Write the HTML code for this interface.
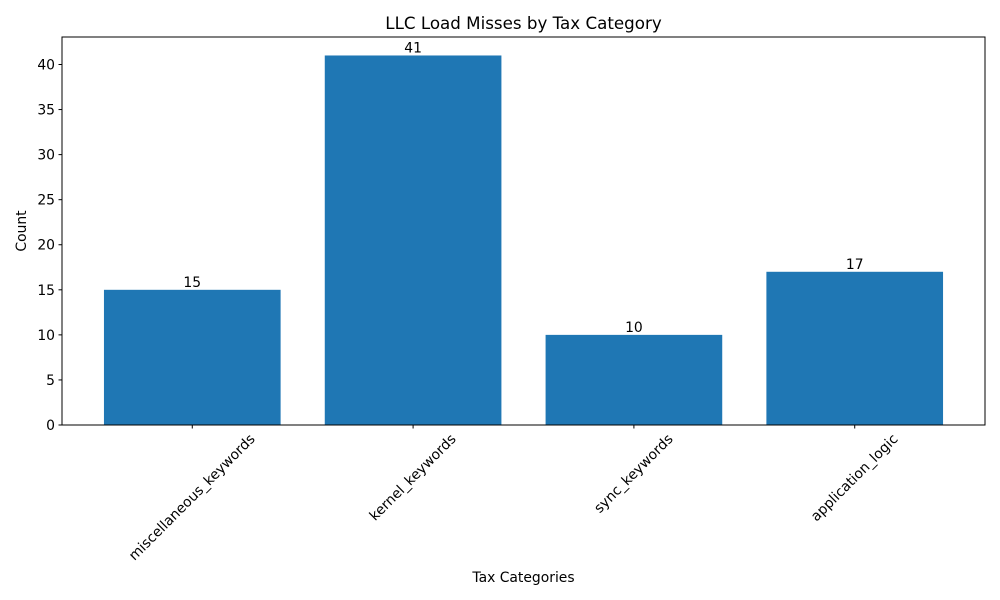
<!DOCTYPE html>
<html><head><meta charset="utf-8"><style>
body{margin:0;background:#fff;}
svg{display:block;font-family:"DejaVu Sans","Liberation Sans",sans-serif;}
</style></head><body>
<svg id="chart" width="1000" height="600">
<rect x="0" y="0" width="1000" height="600" fill="#fff"/>
<text x="523.5" y="29" font-size="16.7" text-anchor="middle">LLC Load Misses by Tax Category</text>
<g id="bars"></g>
<g id="yaxis"></g>
<g id="xaxis"></g>
<rect x="62" y="37" width="923" height="388" fill="none" stroke="#000" stroke-width="1"/>
<text x="523.5" y="582" font-size="13.9" text-anchor="middle">Tax Categories</text>
<text transform="translate(26,231) rotate(-90)" font-size="13.9" text-anchor="middle">Count</text>
</svg>
<script>
const categories=["miscellaneous_keywords","kernel_keywords","sync_keywords","application_logic"];
const values=[15,41,10,17];
const yTicks=[0,5,10,15,20,25,30,35,40];
const NS="http://www.w3.org/2000/svg";
const L=62,R=985,T=37,B=425;
const ymax=Math.max(...values)*1.05;
const y=v=>B-(v/ymax)*(B-T);
const xmin=-0.59,xmax=categories.length-1+0.59;
const x=i=>L+(i-xmin)/(xmax-xmin)*(R-L);
const pu=(R-L)/(xmax-xmin);
function mk(tag,attrs,parent){const e=document.createElementNS(NS,tag);for(const k in attrs)e.setAttribute(k,attrs[k]);parent.appendChild(e);return e;}
const gb=document.getElementById('bars'),gy=document.getElementById('yaxis'),gx=document.getElementById('xaxis');
values.forEach((v,i)=>{
 const r=mk('rect',{x:x(i)-0.4*pu,y:y(v),width:0.8*pu,height:B-y(v),fill:'#1f77b4'},gb);
 
 
 const t=mk('text',{x:x(i),y:y(v)-3,'font-size':13.9,'text-anchor':'middle'},gb);t.textContent=v;
 
 
});
yTicks.forEach(v=>{
 const l=mk('line',{x1:L-3.5,x2:L,y1:y(v),y2:y(v),stroke:'#000'},gy);
 
 
 const t=mk('text',{x:L-7,y:y(v)+5,'font-size':13.9,'text-anchor':'end'},gy);t.textContent=v;
 
 
});
categories.forEach((c,i)=>{
 const l=mk('line',{x1:x(i),x2:x(i),y1:B,y2:B+3.5,stroke:'#000'},gx);
 
 
 const t=mk('text',{'font-size':13.9,'text-anchor':'middle','dominant-baseline':'central'},gx);t.textContent=c;
 
 
 const len=t.getComputedTextLength();
 const h=(len+14)*0.7071;
 t.setAttribute('transform','translate('+x(i)+','+(B+7+h/2)+') rotate(-45)');
});
</script>
</body></html>
